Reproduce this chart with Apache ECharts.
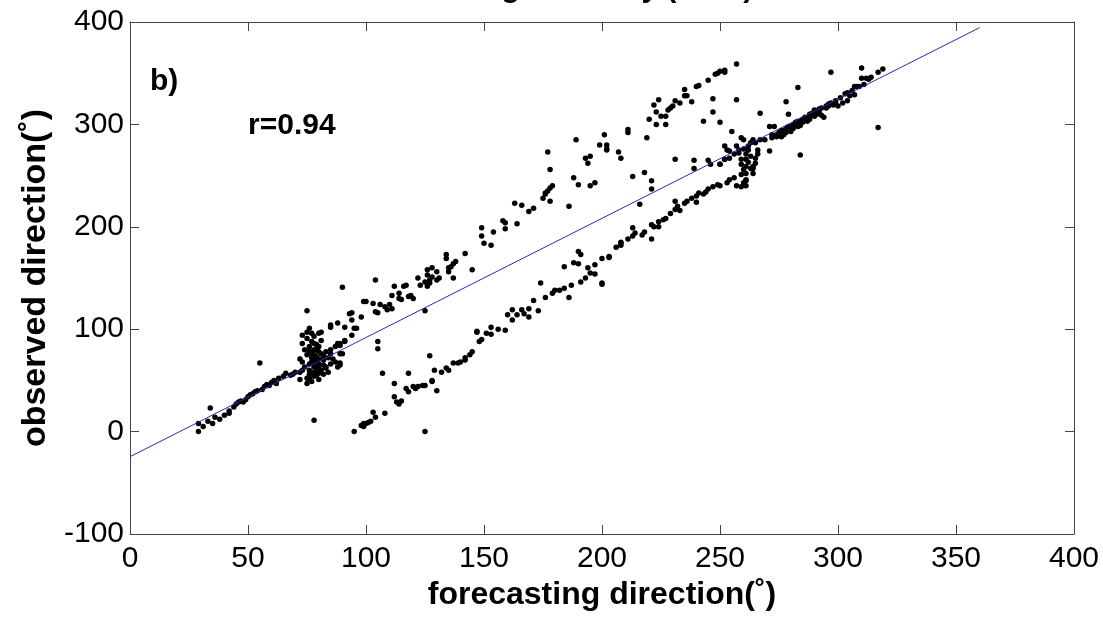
<!DOCTYPE html>
<html>
<head>
<meta charset="utf-8">
<script src="https://cdn.jsdelivr.net/npm/echarts@6/dist/echarts.min.js"></script>
<style>html,body{margin:0;padding:0;background:#fff}#c{width:1103px;height:617px}</style>
</head>
<body>
<div id="c"></div>
<script>
// ---- data ----
const xTicks = [0, 50, 100, 150, 200, 250, 300, 350, 400];
const yTicks = [-100, 0, 100, 200, 300, 400];
const titleText = 'Forecasting accuracy (2010)';
const xName = 'forecasting direction(˚)';
const yName = 'observed direction(˚)';
const panelLabel = 'b)';
const corrLabel = 'r=0.94';

// regression line end points [forecast, observed]
const fitLine = [[0, -24.5], [360, 394.5]];

// points along the fit line, low end
const nearLineLow = [[29,8],[29,0],[31,5],[34,23],[35,8],[38,12],[40,16],[42,20],[42,18],[45,27],[46,29],[49,31],[50,34],[51,36],[53,39],[55,67],[56,41],[57,44],[58,46],[60,48],[61,50],[62,47],[66,57],[68,55],[72,51],[73,60],[75,52],[44,24],[47,30],[52,37],[54,40],[59,45],[63,52],[65,54],[69,56],[70,58],[36,14],[33,10],[48,29]];

// dense cluster near forecast 78
const cluster78 = [[75,118],[78,11],[72,71],[73,86],[73,94],[75,97],[76,101],[77,96],[75,91],[74,80],[75,75],[76,83],[77,76],[78,80],[78,86],[79,73],[77,68],[78,63],[80,66],[80,71],[81,76],[82,70],[83,63],[79,55],[80,57],[76,52],[75,47],[77,49],[80,96],[81,97],[83,62],[84,58],[85,66],[86,71],[87,68],[89,76],[87,83],[85,80],[73,68],[72,58],[74,63],[78,71],[78,75],[79,80],[80,83],[77,88],[78,93],[85,102],[88,86],[91,88],[90,76],[89,65],[76,60],[77,58],[79,61],[81,60],[76,66],[79,68],[80,78],[82,74],[77,72],[78,65],[80,62],[79,85],[76,79],[81,89],[82,65],[84,72],[83,78],[79,58],[76,56],[78,54],[82,56],[80,51]];

// upper branch (observed above the fit)
const upperBranch = [[85,104],[88,106],[85,76],[89,67],[89,86],[94,116],[94,109],[96,101],[98,112],[99,127],[105,88],[105,81],[90,141],[91,102],[93,115],[95,101],[94,94],[91,89],[89,84],[88,63],[100,127],[103,125],[106,124],[104,117],[105,116],[104,148],[108,122],[110,124],[109,119],[111,120],[111,133],[112,142],[114,135],[115,129],[117,143],[118,132],[114,130],[116,142],[119,133],[120,130],[122,150],[123,143],[125,146],[126,142],[127,148],[126,153],[128,160],[130,156],[130,148],[128,151],[127,145],[126,158],[131,150],[134,173],[134,169],[137,164],[138,166],[135,160],[135,156],[142,174],[145,158],[137,150],[136,161],[149,199],[149,191],[150,184],[153,182],[154,195],[158,206],[159,204],[159,198],[163,223],[164,203],[166,221],[169,215],[171,218],[175,228],[176,232],[176,233],[177,235],[178,238],[179,240],[178,225],[178,256],[177,273],[186,220],[188,248],[190,241],[189,285],[193,267],[194,262],[195,269],[195,240],[197,243],[199,280],[201,290],[202,275],[202,280],[207,273],[208,267],[211,295],[211,292],[202,276],[219,287],[220,305],[222,319],[224,324],[223,312],[225,308],[227,308],[223,300],[227,300],[228,314],[229,316],[230,318],[231,323],[233,321],[235,334],[235,328],[236,328],[238,322],[240,337],[241,338],[243,303],[245,343],[247,312],[247,325],[248,349],[249,350],[250,302],[250,352],[252,353],[252,351],[257,359],[257,324],[231,266],[216,222],[213,249],[218,253],[221,245],[221,237],[239,265],[239,257],[245,265],[246,261],[250,261],[252,266]];

// lower branch (observed below the fit)
const lowerBranch = [[95,0],[98,6],[99,8],[100,8],[101,9],[102,10],[99,5],[103,19],[104,14],[108,18],[107,57],[112,47],[112,34],[113,29],[114,27],[118,57],[117,42],[118,39],[121,42],[122,44],[124,45],[125,45],[127,74],[128,50],[128,49],[125,0],[125,118],[129,60],[132,58],[135,60],[130,40],[137,67],[139,67],[140,68],[142,70],[142,72],[144,75],[145,78],[147,97],[147,98],[148,88],[151,96],[153,102],[153,95],[159,99],[160,114],[162,109],[162,119],[164,114],[166,119],[167,115],[169,112],[169,120],[171,128],[173,118],[174,145],[179,135],[180,138],[182,138],[184,140],[186,131],[184,161],[187,143],[188,165],[190,164],[191,146],[190,176],[191,173],[194,160],[195,155],[197,154],[197,163],[200,145],[200,169],[203,171],[200,144],[203,170],[208,184],[208,182],[213,199],[213,191],[214,194],[218,195],[221,188],[221,202],[222,200],[224,200],[224,205],[226,207],[227,208],[229,213],[231,217],[232,220],[233,216],[235,223],[236,225],[231,225],[240,224],[240,230],[241,233],[244,234],[245,237],[247,239],[250,240],[253,243],[256,248],[257,240],[260,243],[259,239],[261,245],[208,185],[115,30],[120,44],[134,62],[149,90],[156,100],[176,131],[193,150],[206,180],[211,188],[217,192],[238,228],[243,232],[249,241],[254,246]];

// cluster near forecast 262
const cluster262 = [[252,279],[253,275],[254,274],[254,267],[256,271],[257,279],[258,275],[259,266],[259,261],[260,256],[259,251],[261,259],[263,257],[264,252],[264,259],[265,267],[266,271],[266,275],[265,282],[264,285],[263,282],[262,275],[261,271],[261,266],[260,285],[259,287],[258,272],[261,252],[264,257],[267,285],[269,285],[272,290],[261,246],[261,240],[252,266],[250,261],[255,293],[267,311],[271,274],[271,298],[273,298],[262,263],[263,269],[260,276],[262,279],[265,262]];

// tight band 270-320
const tightBand = [[272,287],[274,288],[275,292],[276,294],[278,296],[279,298],[281,300],[282,302],[283,303],[285,305],[286,307],[288,310],[289,311],[290,314],[292,315],[293,316],[295,318],[296,320],[297,321],[299,323],[301,326],[303,330],[304,323],[307,329],[308,337],[307,337],[276,288],[277,290],[278,292],[280,293],[281,296],[283,298],[284,299],[285,302],[287,303],[288,305],[290,308],[291,310],[293,309],[294,307],[300,318],[302,321],[305,328],[309,337],[311,339],[313,344],[304,331],[278,322],[279,310],[283,336],[284,270],[297,351],[310,355],[310,345],[312,345],[314,346],[317,351],[319,354],[317,297],[280,297],[286,306],[292,312],[298,319],[295,316],[289,309],[291,313],[274,290],[277,294],[282,300],[287,306],[296,318],[299,321],[306,333]];

// ---- chart ----
const FONT = "'Liberation Sans', Arial, sans-serif";
const allPoints = [].concat(nearLineLow, cluster78, upperBranch, lowerBranch, cluster262, tightBand);
const chart = echarts.init(document.getElementById('c'), null, {renderer: 'canvas'});
const axisCommon = {
  type: 'value',
  splitLine: {show: false},
  axisLine: {show: true, onZero: false, lineStyle: {color: '#444', width: 1}},
  axisTick: {show: true, inside: true, length: 9, lineStyle: {color: '#444', width: 1}}
};
chart.setOption({
  animation: false,
  backgroundColor: '#ffffff',
  title: {
    text: titleText, left: 'center', top: -26, padding: 0,
    textStyle: {fontFamily: FONT, fontSize: 30, fontWeight: 'bold', color: '#000'}
  },
  grid: {left: 130, right: 29, top: 22, bottom: 83, containLabel: false, outerBoundsMode: 'none'},
  xAxis: [
    Object.assign({}, axisCommon, {
      position: 'bottom', min: xTicks[0], max: xTicks[xTicks.length - 1], interval: xTicks[1] - xTicks[0],
      name: xName, nameLocation: 'middle', nameGap: 40,
      nameTextStyle: {fontFamily: FONT, fontSize: 32, fontWeight: 'bold', color: '#000'},
      axisLabel: {fontFamily: FONT, fontSize: 30, color: '#000', margin: 10}
    }),
    Object.assign({}, axisCommon, {
      position: 'top', min: xTicks[0], max: xTicks[xTicks.length - 1], interval: xTicks[1] - xTicks[0],
      axisLabel: {show: false}
    })
  ],
  yAxis: [
    Object.assign({}, axisCommon, {
      position: 'left', min: yTicks[0], max: yTicks[yTicks.length - 1], interval: yTicks[1] - yTicks[0],
      name: yName, nameLocation: 'middle', nameGap: 74, nameRotate: 90,
      nameTextStyle: {fontFamily: FONT, fontSize: 34, fontWeight: 'bold', color: '#000'},
      axisLabel: {fontFamily: FONT, fontSize: 30, color: '#000', margin: 6}
    }),
    Object.assign({}, axisCommon, {
      position: 'right', min: yTicks[0], max: yTicks[yTicks.length - 1], interval: yTicks[1] - yTicks[0],
      axisLabel: {show: false}
    })
  ],
  graphic: [
    {type: 'text', left: 150, top: 67, style: {text: panelLabel, font: "bold 30px 'Liberation Sans', Arial, sans-serif", fill: '#000'}},
    {type: 'text', left: 248, top: 111, style: {text: corrLabel, font: "bold 30px 'Liberation Sans', Arial, sans-serif", fill: '#000'}}
  ],
  series: [
    {
      type: 'scatter', xAxisIndex: 0, yAxisIndex: 0,
      data: allPoints, symbol: 'circle', symbolSize: 5.5,
      itemStyle: {color: '#000', opacity: 1}, z: 2, silent: true
    },
    {
      type: 'line', xAxisIndex: 0, yAxisIndex: 0,
      data: fitLine, symbol: 'none',
      lineStyle: {color: '#2a2ab8', width: 1}, z: 3, silent: true
    }
  ]
});
</script>
</body>
</html>
